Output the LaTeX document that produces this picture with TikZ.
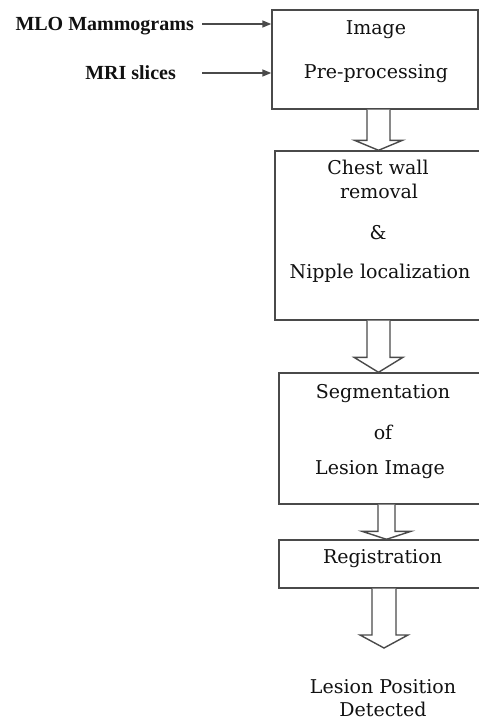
\documentclass[tikz,border=0pt]{standalone}
\usepackage{fontspec}
\setmainfont{DejaVu Serif}
\newfontfamily\inputfont{Liberation Serif}
\usetikzlibrary{arrows.meta,positioning,calc}
\definecolor{ink}    {HTML}{111111}
\definecolor{edgegray}{HTML}{4A4A4A}
\tikzset{
  stagebox/.style ={draw=edgegray, fill=white, line width=1.4pt, inner sep=0pt},
  stagetext/.style={font=\fontsize{19}{22}\selectfont, text=ink, inner sep=0pt,
                    text height=13pt, text depth=0pt},
  inputtext/.style={font=\inputfont\bfseries\fontsize{20}{23}\selectfont, text=ink,
                    inner sep=0pt, text height=13pt, text depth=0pt, anchor=east},
  inarr/.style    ={-{Triangle[length=9pt,width=7pt]}, line width=1.4pt, draw=edgegray},
  blockarr/.style ={draw=edgegray, fill=white, line width=1.4pt, line join=miter},
}
% hollow block arrow: from, to, x, half shaft, half head, head length
\newcommand{\hollowarr}[6]{%
  \draw[blockarr] let \p1=(#1), \p2=(#2) in
    ({#3pt-#4pt},\y1) -- ({#3pt-#4pt},{\y2+#6pt}) -- ({#3pt-#5pt},{\y2+#6pt})
    -- (#3pt,\y2) -- ({#3pt+#5pt},{\y2+#6pt}) -- ({#3pt+#4pt},{\y2+#6pt})
    -- ({#3pt+#4pt},\y1);}

\begin{document}
\begin{tikzpicture}[x=1pt,y=1pt]
    \clip (0,0) rectangle (479,-720);
    \fill[white] (0,0) rectangle (479,-720);

    % ----- inputs -----
    \node[inputtext] (mlo) at (194,-24) {MLO Mammograms};
    \node[inputtext] (mri) at (176,-73) {MRI slices};

    % ----- stages -----
    \node[stagebox, minimum width=206pt, minimum height=99pt]  (prep) at (375,-59.5) {};
    \node[stagebox, minimum width=215pt, minimum height=169pt] (wall) at (382.5,-235.5) {};
    \node[stagebox, minimum width=211pt, minimum height=131pt] (seg)  at (384.5,-438.5) {};
    \node[stagebox, minimum width=211pt, minimum height=48pt]  (reg)  at (384.5,-564) {};

    \node[stagetext] (prep1) at (376,-28) {Image};
    \node[stagetext] (prep2) at (376,-72) {Pre-processing};

    \node[stagetext] (wall1) at (378,-168) {Chest wall};
    \node[stagetext] (wall2) at (379,-192) {removal};
    \node[stagetext] (wall3) at (378,-233) {\&};
    \node[stagetext] (wall4) at (380,-272) {Nipple localization};

    \node[stagetext] (seg1) at (383,-392) {Segmentation};
    \node[stagetext] (seg2) at (383,-433) {of};
    \node[stagetext] (seg3) at (380,-468) {Lesion Image};

    \node[stagetext] (reg1) at (382.5,-557) {Registration};

    \node[stagetext] (out1) at (383,-687) {Lesion Position};
    \node[stagetext] (out2) at (383,-710) {Detected};
    \coordinate (outtip) at (384,-648);

    % ----- connectors -----
    \coordinate (instart) at ([xshift=8pt]mlo.east);
    \draw[inarr] (instart) -- (instart -| prep.west);
    \draw[inarr] (mri.east -| instart) -- (mri.east -| prep.west);

    \hollowarr{prep.south}{wall.north}{378.5}{11.5}{24}{10}
    \hollowarr{wall.south}{seg.north}{378.5}{11.5}{24.5}{15}
    \hollowarr{seg.south}{reg.north}{386.5}{8.5}{24.5}{8}
    \hollowarr{reg.south}{outtip}{384}{12}{24}{13}
\end{tikzpicture}
\end{document}
